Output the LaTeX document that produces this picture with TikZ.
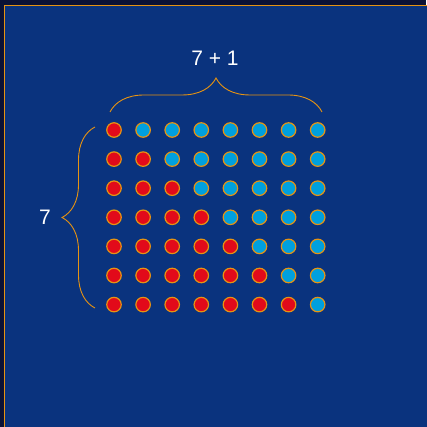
\documentclass[tikz,border=0pt]{standalone}
\usepackage{fontspec}
\setmainfont{Liberation Sans}
\usepackage{tikz}
\usetikzlibrary{decorations.pathreplacing}
\definecolor{cNight}{HTML}{0B1236}
\definecolor{cBack}{HTML}{0A337E}
\definecolor{cOrange}{HTML}{E69312}
\definecolor{cRed}{HTML}{E20A1A}
\definecolor{cSky}{HTML}{00A0DE}

\begin{document}
\begin{tikzpicture}[
  x=1pt,y=1pt,
  font=\fontsize{21}{25}\selectfont,
  dot/.style={draw=cOrange,circle,line width=1.2pt,minimum size=14.5pt,inner sep=0pt},
  brc/.style={draw=cOrange,line width=0.9pt,decorate,decoration={brace,amplitude=#1}},
  lbl/.style={text=white,inner sep=0pt}
]
\useasboundingbox (0,0) rectangle (426,427);
\fill[cNight] (0,0) rectangle (426,427);
\filldraw[fill=cBack,draw=cOrange,line width=1.2pt] (4.6,-5) rectangle (432,421.4);
% grid of counters: row r has r red ones
\foreach \r in {1,...,7}{
  \foreach \c in {1,...,8}{
    \pgfmathsetmacro{\px}{114+29.1*(\c-1)}
    \pgfmathsetmacro{\py}{297-29.1*(\r-1)}
    \ifnum\c>\r
      \node[dot,fill=cSky] (d-\r-\c) at (\px,\py) {};
    \else
      \node[dot,fill=cRed] (d-\r-\c) at (\px,\py) {};
    \fi
  }
}
\coordinate (tl) at (110,315);
\coordinate (tr) at (322,315);
\coordinate (lb) at (95,119);
\coordinate (lt) at (95,300);
\draw[brc=34pt] (tl) -- (tr);
\draw[brc=33pt] (lb) -- (lt);
\node[lbl] (top) at (215,369) {7 + 1};
\node[lbl] (left) at (45,210) {7};
\end{tikzpicture}
\end{document}
